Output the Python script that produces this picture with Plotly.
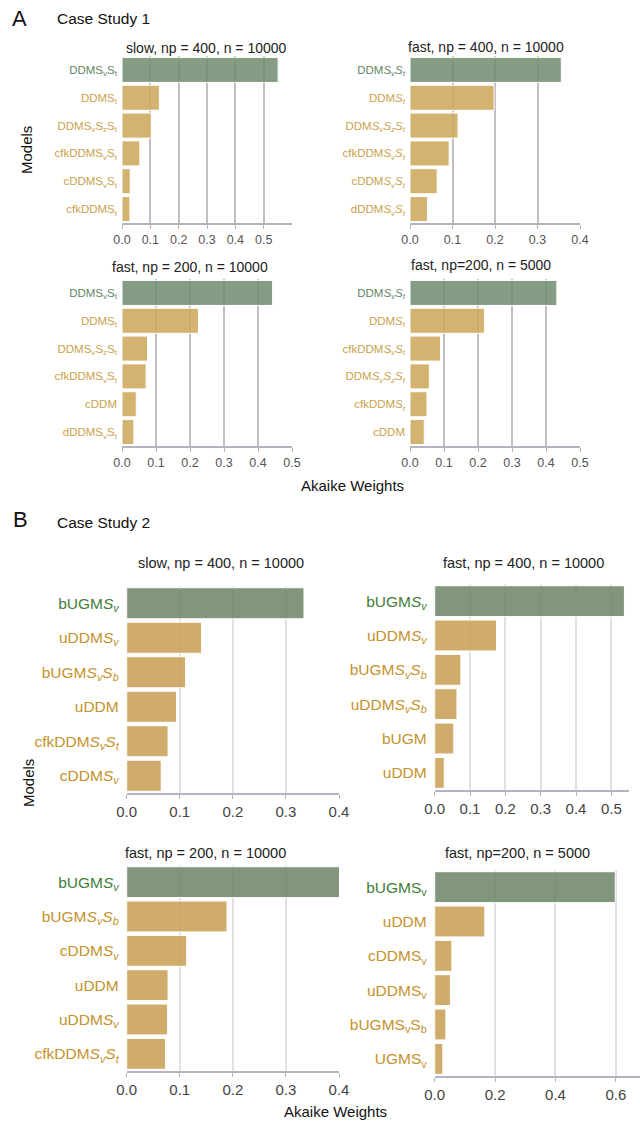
import re
import plotly.graph_objects as go

W, H = 640, 1125

# ---------------- data ----------------
a1_models = ["DDMS_vS_t", "DDMS_t", "DDMS_vS_zS_t", "cfkDDMS_vS_t", "cDDMS_vS_t", "cfkDDMS_t"]
a1_weights = [0.551, 0.132, 0.103, 0.063, 0.029, 0.028]
a2_models = ["DDMS_vS_t", "DDMS_t", "DDMS_vS_zS_t", "cfkDDMS_vS_t", "cDDMS_vS_t", "dDDMS_vS_t"]
a2_weights = [0.356, 0.198, 0.113, 0.092, 0.064, 0.041]
a3_models = ["DDMS_vS_t", "DDMS_t", "DDMS_vS_zS_t", "cfkDDMS_vS_t", "cDDM", "dDDMS_vS_t"]
a3_weights = [0.443, 0.225, 0.075, 0.071, 0.042, 0.035]
a4_models = ["DDMS_vS_t", "DDMS_t", "cfkDDMS_vS_t", "DDMS_vS_zS_t", "cfkDDMS_t", "cDDM"]
a4_weights = [0.432, 0.219, 0.090, 0.057, 0.050, 0.042]

b1_models = ["bUGMS_v", "uDDMS_v", "bUGMS_vS_b", "uDDM", "cfkDDMS_vS_t", "cDDMS_v"]
b1_weights = [0.334, 0.141, 0.111, 0.094, 0.078, 0.065]
b2_models = ["bUGMS_v", "uDDMS_v", "bUGMS_vS_b", "uDDMS_vS_b", "bUGM", "uDDM"]
b2_weights = [0.537, 0.175, 0.074, 0.063, 0.054, 0.027]
b3_models = ["bUGMS_v", "bUGMS_vS_b", "cDDMS_v", "uDDM", "uDDMS_v", "cfkDDMS_vS_t"]
b3_weights = [0.41, 0.189, 0.113, 0.078, 0.077, 0.073]
b4_models = ["bUGMS_v", "uDDM", "cDDMS_v", "uDDMS_v", "bUGMS_vS_b", "UGMS_v"]
b4_weights = [0.598, 0.166, 0.057, 0.052, 0.037, 0.027]

a_titles = ["slow, np = 400, n = 10000", "fast, np = 400, n = 10000",
            "fast, np = 200, n = 10000", "fast, np=200, n = 5000"]
b_titles = ["slow, np = 400, n = 10000", "fast, np = 400, n = 10000",
            "fast, np = 200, n = 10000", "fast, np=200, n = 5000"]

a_ticks_1 = [0.0, 0.1, 0.2, 0.3, 0.4, 0.5]
a_ticks_2 = [0.0, 0.1, 0.2, 0.3, 0.4]
b_ticks_1 = [0.0, 0.1, 0.2, 0.3, 0.4]
b_ticks_2 = [0.0, 0.1, 0.2, 0.3, 0.4, 0.5]
b_ticks_4 = [0.0, 0.2, 0.4, 0.6]

FONT = "Liberation Sans, Arial, sans-serif"

A_GREEN_BAR = "rgba(112,140,112,0.85)"
A_GOLD_BAR = "rgba(206,168,92,0.88)"
B_GREEN_BAR = "rgba(112,136,106,0.88)"
B_GOLD_BAR = "rgba(200,160,88,0.88)"


def fmt(name, italic, color):
    if italic:
        s = re.sub(r"S_(\w)", r"<i>S</i><sub><i>\1</i></sub>", name)
    else:
        s = re.sub(r"_(\w)", r"<sub>\1</sub>", name)
    return f'<span style="color:{color}">{s}</span>'


# panel specs (pixel geometry)
panels = [
    dict(models=a1_models, w=a1_weights, title=a_titles[0], x=(122, 292), y=(56, 223), rng=[0, 0.6],
         ticks=a_ticks_1, ital=False, grp="A", tx=206, ty=48),
    dict(models=a2_models, w=a2_weights, title=a_titles[1], x=(410, 580), y=(56, 223), rng=[0, 0.4],
         ticks=a_ticks_2, ital=True, grp="A", tx=486, ty=47),
    dict(models=a3_models, w=a3_weights, title=a_titles[2], x=(122, 292), y=(279, 446), rng=[0, 0.5],
         ticks=a_ticks_1, ital=False, grp="A", tx=190, ty=267),
    dict(models=a4_models, w=a4_weights, title=a_titles[3], x=(410, 580), y=(279, 446), rng=[0, 0.5],
         ticks=a_ticks_1, ital=True, grp="A", tx=481, ty=265),
    dict(models=b1_models, w=b1_weights, title=b_titles[0], x=(126.7, 339), y=(586, 793), rng=[0, 0.4],
         ticks=b_ticks_1, ital=True, grp="B", tx=221, ty=563),
    dict(models=b2_models, w=b2_weights, title=b_titles[1], x=(434.7, 629), y=(584, 790), rng=[0, 0.55],
         ticks=b_ticks_2, ital=True, grp="B", tx=523, ty=563),
    dict(models=b3_models, w=b3_weights, title=b_titles[2], x=(126.7, 339), y=(865, 1071), rng=[0, 0.4],
         ticks=b_ticks_1, ital=True, grp="B", tx=205, ty=853),
    dict(models=b4_models, w=b4_weights, title=b_titles[3], x=(434.7, 640), y=(870, 1076), rng=[0, 0.68],
         ticks=b_ticks_4, ital=False, grp="B", tx=517, ty=853),
]

fig = go.Figure()
layout = dict(
    width=W, height=H, margin=dict(l=0, r=0, t=0, b=0, pad=0, autoexpand=False),
    paper_bgcolor="white", plot_bgcolor="white", showlegend=False,
    font=dict(family=FONT, color="#222"),
    bargap=0.1,
)
annotations = []

for i, p in enumerate(panels):
    k = "" if i == 0 else str(i + 1)
    isA = p["grp"] == "A"
    gcol = A_GREEN_BAR if isA else B_GREEN_BAR
    ocol = A_GOLD_BAR if isA else B_GOLD_BAR
    green_txt = "#648664" if isA else "#3f7d38"
    gold_txt = "#c9a24c" if isA else "#c4922c"
    colors = [gcol] + [ocol] * (len(p["models"]) - 1)
    fig.add_trace(go.Bar(
        x=p["w"], y=p["models"], orientation="h",
        marker=dict(color=colors, line=dict(color="white", width=1)),
        xaxis="x" + k, yaxis="y" + k, hoverinfo="x+y",
    ))
    layout["xaxis" + k] = dict(
        domain=[p["x"][0] / W, p["x"][1] / W], anchor="y" + k,
        range=p["rng"], tickvals=p["ticks"], tickformat=".1f",
        showgrid=True, gridcolor="#c0c0c4" if isA else "#e1e1e3", gridwidth=2,
        showline=True, linecolor="#b4b4c0", linewidth=1.5,
        ticks="outside", ticklen=4, tickcolor="#b4b4c0",
        zeroline=False, fixedrange=True, automargin=False,
        tickfont=dict(size=12.5 if isA else 15, color="#555" if isA else "#444", family=FONT),
    )
    labels = [fmt(m, p["ital"], green_txt if j == 0 else gold_txt) for j, m in enumerate(p["models"])]
    layout["yaxis" + k] = dict(
        domain=[1 - p["y"][1] / H, 1 - p["y"][0] / H], anchor="x" + k,
        type="category", categoryarray=p["models"], autorange="reversed",
        tickvals=p["models"], ticktext=labels,
        showgrid=False, showline=False, zeroline=False, ticks="",
        ticklabelstandoff=4 if isA else 7, fixedrange=True, automargin=False,
        tickfont=dict(size=11.5 if isA else 15.5, family=FONT),
    )
    annotations.append(dict(
        text=p["title"], x=p["tx"] / W, y=1 - p["ty"] / H, xref="paper", yref="paper",
        xanchor="center", yanchor="middle", showarrow=False,
        font=dict(size=14 if isA else 14.5, color="#222", family=FONT),
    ))

# panel letters, headers, axis titles
annotations += [
    dict(text="A", x=10 / W, y=1 - 18 / H, xanchor="left", yanchor="middle", font=dict(size=22)),
    dict(text="Case Study 1", x=55 / W, y=1 - 18 / H, xanchor="left", yanchor="middle", font=dict(size=15.5)),
    dict(text="B", x=11 / W, y=1 - 519 / H, xanchor="left", yanchor="middle", font=dict(size=22)),
    dict(text="Case Study 2", x=55 / W, y=1 - 522 / H, xanchor="left", yanchor="middle", font=dict(size=15.5)),
    dict(text="Models", x=27 / W, y=1 - 150 / H, xanchor="center", yanchor="middle", textangle=-90, font=dict(size=15)),
    dict(text="Models", x=28 / W, y=1 - 783 / H, xanchor="center", yanchor="middle", textangle=-90, font=dict(size=15)),
    dict(text="Akaike Weights", x=352 / W, y=1 - 485 / H, xanchor="center", yanchor="middle", font=dict(size=15)),
    dict(text="Akaike Weights", x=335 / W, y=1 - 1111 / H, xanchor="center", yanchor="middle", font=dict(size=15)),
]
for a in annotations[-8:]:
    a.update(xref="paper", yref="paper", showarrow=False)
    a["font"].update(family=FONT, color="#111")

layout["annotations"] = annotations
fig.update_layout(**layout)
fig.write_html(
    "out.html",
    config={"displayModeBar": False},
    post_script="document.body.style.margin='0px';document.body.style.overflow='hidden';",
)
